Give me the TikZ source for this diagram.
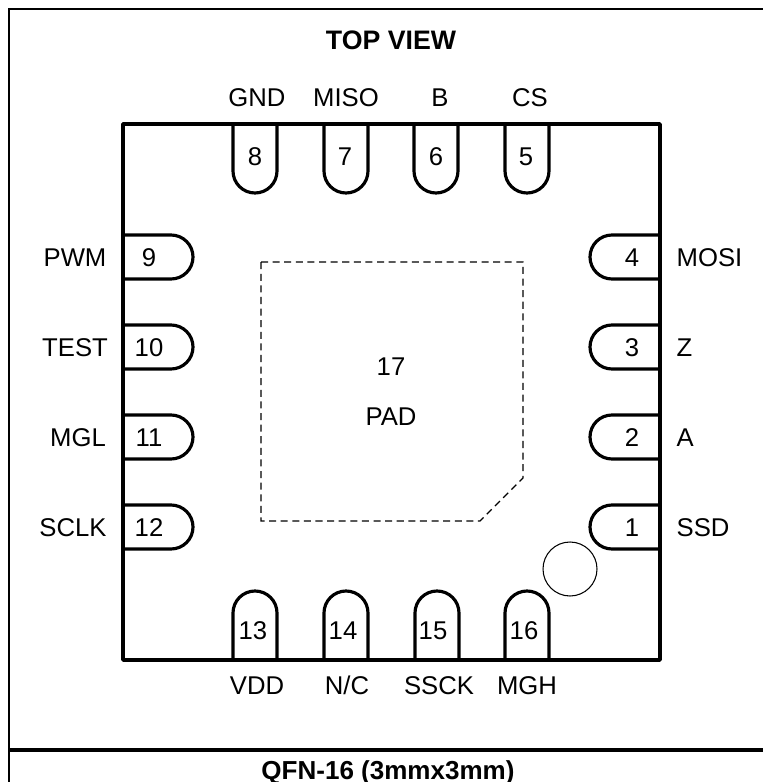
\documentclass[tikz,border=0pt]{standalone}
\usepackage{fontspec}
\setmainfont{Liberation Sans}
\usepackage{tikz}

\begin{document}
\begin{tikzpicture}[
  x=0.01cm, y=-0.01cm,
  every node/.style={font=\fontsize{7.3}{9}\selectfont, inner sep=0pt, text height=5.3pt, text depth=0pt},
  heading/.style = {font=\fontsize{7.4}{9}\selectfont\bfseries},
  outline/.style = {draw, line width=0.85pt},
  pinline/.style = {draw, line width=0.9pt, line join=round},
  body/.style = {draw, line width=1.05pt, line join=round}
  ]
	\useasboundingbox (0,0) rectangle (763,782);

	% frame and title strip
	\draw[outline] (9,782) -- (9,9) -- (763,9);
	\draw[line width=1.14pt] (9,750) -- (763,750);
	\node[heading, font=\fontsize{7.6}{9}\selectfont\bfseries] (title) at (391,40) {TOP VIEW};
	\node[heading] (caption) at (388,770) {QFN-16 (3mmx3mm)};

	% pins on the top edge: number, x, number x, name x, name
	\foreach \num/\x/\tx/\nx/\name in {8/255/255/257/GND, 7/346/345/346/MISO, 6/436/436/440/B, 5/527/526/530/CS}{
		\draw[pinline] (\x-22,124) -- (\x-22,171) arc[start angle=180, end angle=0, radius=22] -- (\x+22,124);
		\node (p\num) at (\tx,156) {\num};
		\node (n\num) at (\nx,97) {\name};
	}

	% pins on the bottom edge
	\foreach \num/\x/\tx/\nx/\name in {13/255/253/257/VDD, 14/346/343/347/N\slash C, 15/437/433/439/SSCK, 16/527/524/527/MGH}{
		\draw[pinline] (\x-22,660) -- (\x-22,613) arc[start angle=180, end angle=360, radius=22] -- (\x+22,660);
		\node (p\num) at (\tx,630) {\num};
		\node (n\num) at (\nx,685) {\name};
	}

	% pins on the left edge
	\foreach \num/\y/\nx/\name in {9/257/75/PWM, 10/347/75/TEST, 11/437/78/MGL, 12/527/73/SCLK}{
		\draw[pinline] (123,\y-22) -- (171,\y-22) arc[start angle=-90, end angle=90, radius=22] -- (123,\y+22);
		\node (p\num) at (149,\y) {\num};
		\node (n\num) at (\nx,\y) {\name};
	}

	% pins on the right edge
	\foreach \num/\y/\name in {4/257/MOSI, 3/347/Z, 2/437/A, 1/527/SSD}{
		\draw[pinline] (660,\y-22) -- (612,\y-22) arc[start angle=270, end angle=90, radius=22] -- (660,\y+22);
		\node (p\num) at (632,\y) {\num};
		\node[anchor=west] (n\num) at (676,\y) {\name};
	}

	% package body
	\draw[body] (123,124) rectangle (660,660);

	% exposed pad
	\draw[dash pattern=on 2pt off 1.3pt, line width=0.35pt] (261,262) -- (523,262) -- (523,478) -- (480,521) -- (261,521) -- cycle;
	\node (padnum) at (391,366) {17};
	\node (padname) at (391,416) {PAD};

	% pin one mark
	\draw[line width=0.3pt] (570,569) circle[radius=27];

\end{tikzpicture}
\end{document}
